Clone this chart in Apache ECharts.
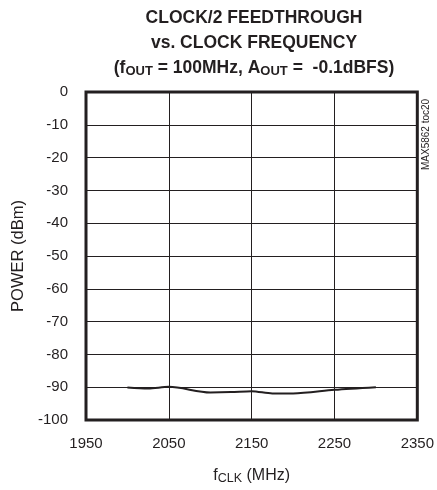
<!DOCTYPE html>
<html><head><meta charset="utf-8">
<script src="https://cdn.jsdelivr.net/npm/echarts@6/dist/echarts.min.js"></script>
<style>html,body{margin:0;padding:0;background:#fff}#c{width:437px;height:490px}</style>
</head><body><div id="c"></div>
<script>
var freqs = [2000, 2025, 2050, 2100, 2125, 2150, 2175, 2200, 2250, 2300];
var power = [-90.1, -90.4, -89.9, -91.6, -91.5, -91.2, -91.9, -91.9, -90.8, -90.0];
var xTicks = [1950, 2050, 2150, 2250, 2350];
var yTicks = [0, -10, -20, -30, -40, -50, -60, -70, -80, -90, -100];

var FN = '"Liberation Sans", Arial, sans-serif';
var chart = echarts.init(document.getElementById('c'), null, {renderer: 'canvas'});
var data = freqs.map(function (f, i) { return [f, power[i]]; });
chart.setOption({
  animation: false,
  title: {
    left: 249, top: 1, textAlign: 'center',
    text: '{b|CLOCK/2 FEEDTHROUGH}\n{b|vs. CLOCK FREQUENCY}\n{b|(f}{s|OUT}{b| = 100MHz, A}{s|OUT}{b| =  -0.1dBFS)}',
    textStyle: {
      rich: {
        b: {fontFamily: FN, fontWeight: 'bold', fontSize: 17.5, color: '#231f20', lineHeight: 25},
        s: {fontFamily: FN, fontWeight: 'bold', fontSize: 13, color: '#231f20', lineHeight: 25, padding: [6, 0, 0, 0]}
      }
    }
  },
  grid: {left: 86, right: 19, top: 92, bottom: 67, show: true, borderColor: '#231f20', borderWidth: 3, backgroundColor: 'transparent'},
  xAxis: {
    type: 'value', min: 1950, max: 2350, interval: 100,
    axisLine: {show: false}, axisTick: {show: false},
    splitLine: {show: true, lineStyle: {color: '#231f20', width: 1}},
    axisLabel: {margin: 16, fontFamily: FN, fontSize: 15, color: '#231f20',
      formatter: function (v) { return xTicks.indexOf(v) >= 0 ? String(v) : ''; }},
    name: '{f|f}{s|CLK}{f| (MHz)}', nameLocation: 'middle', nameGap: 47,
    nameTextStyle: {rich: {
      f: {fontFamily: FN, fontSize: 16, color: '#231f20'},
      s: {fontFamily: FN, fontSize: 12.5, color: '#231f20', padding: [5, 0, 0, 0]}
    }}
  },
  yAxis: {
    type: 'value', min: -100, max: 0, interval: 10,
    axisLine: {show: false}, axisTick: {show: false},
    splitLine: {show: true, lineStyle: {color: '#231f20', width: 1}},
    axisLabel: {margin: 18, fontFamily: FN, fontSize: 15, color: '#231f20',
      formatter: function (v) { return yTicks.indexOf(v) >= 0 ? String(v) : ''; }},
    name: 'POWER (dBm)', nameLocation: 'middle', nameGap: 59,
    nameTextStyle: {fontFamily: FN, fontSize: 16.5, color: '#231f20'}
  },
  graphic: [{
    type: 'text', x: 421, y: 170, rotation: Math.PI / 2,
    style: {text: 'MAX5862 toc20', font: '10px ' + FN, fill: '#231f20'}
  }],
  series: [{
    type: 'line', data: data, smooth: 0.3, symbol: 'none',
    lineStyle: {color: '#231f20', width: 2}
  }]
});
</script></body></html>
